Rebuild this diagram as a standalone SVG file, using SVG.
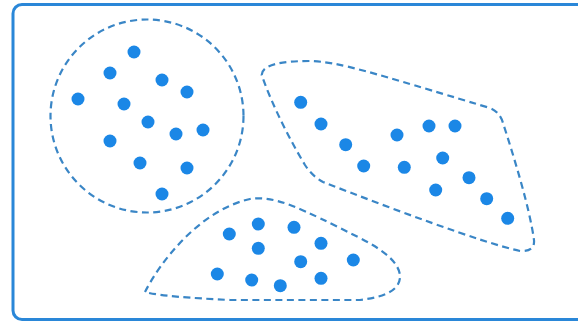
<svg xmlns="http://www.w3.org/2000/svg" width="578" height="323" viewBox="0 0 578 323">
<style>
.frame{fill:#ffffff;stroke:#2a87d8;stroke-width:3}
.hull{fill:none;stroke:#3a86c6;stroke-width:2.2;stroke-dasharray:7 4.5;stroke-linecap:butt}
.dot{fill:#1b87e6}
</style>
<rect width="578" height="323" fill="#ffffff"/>
<rect class="frame" x="13" y="4.5" width="580" height="315" rx="9"/>
<g id="cluster-1">
<circle class="hull" cx="147" cy="116" r="96.5"/>
<g class="dot">
<circle cx="134" cy="52" r="6.5"/>
<circle cx="110" cy="73" r="6.5"/>
<circle cx="162" cy="80" r="6.5"/>
<circle cx="187" cy="92" r="6.5"/>
<circle cx="78" cy="99" r="6.5"/>
<circle cx="124" cy="104" r="6.5"/>
<circle cx="148" cy="122" r="6.5"/>
<circle cx="176" cy="134" r="6.5"/>
<circle cx="203" cy="130" r="6.5"/>
<circle cx="110" cy="141" r="6.5"/>
<circle cx="140" cy="163" r="6.5"/>
<circle cx="187" cy="168" r="6.5"/>
<circle cx="162" cy="194" r="6.5"/>
</g>
</g>
<g id="cluster-2">
<path class="hull" d="M 261.7,75 C 262,65 280,61 310,61 C 340,62 370,72 490,108 Q 500,112 503,123 C 515,160 530,210 534,240 Q 535,252 520,251 C 480,242 390,208 323,182 Q 313,177 305,165 C 290,140 272,105 261.7,75 Z"/>
<g class="dot">
<circle cx="300.7" cy="102.3" r="6.5"/>
<circle cx="321" cy="124" r="6.5"/>
<circle cx="345.7" cy="144.7" r="6.5"/>
<circle cx="363.7" cy="166" r="6.5"/>
<circle cx="397" cy="135" r="6.5"/>
<circle cx="404.3" cy="167.3" r="6.5"/>
<circle cx="429" cy="126" r="6.5"/>
<circle cx="455" cy="126" r="6.5"/>
<circle cx="442.7" cy="158" r="6.5"/>
<circle cx="469" cy="177.7" r="6.5"/>
<circle cx="435.7" cy="190" r="6.5"/>
<circle cx="486.7" cy="198.7" r="6.5"/>
<circle cx="507.7" cy="218.3" r="6.5"/>
</g>
</g>
<g id="cluster-3">
<path class="hull" d="M 145,292 C 160,262 200,210 250,199 C 275,195 300,208 360,238 C 385,251 398,262 400,275 C 401,290 385,297 360,300 L 230,300 C 190,298 160,296 145,292 Z"/>
<g class="dot">
<circle cx="229.3" cy="234" r="6.5"/>
<circle cx="258.3" cy="224" r="6.5"/>
<circle cx="294" cy="227.3" r="6.5"/>
<circle cx="258.3" cy="248.3" r="6.5"/>
<circle cx="321" cy="243.3" r="6.5"/>
<circle cx="300.7" cy="261.7" r="6.5"/>
<circle cx="353.3" cy="260" r="6.5"/>
<circle cx="217.3" cy="274" r="6.5"/>
<circle cx="251.7" cy="280" r="6.5"/>
<circle cx="280.3" cy="285.7" r="6.5"/>
<circle cx="321" cy="278.3" r="6.5"/>
</g>
</g>
<g id="connectors"/>
</svg>
